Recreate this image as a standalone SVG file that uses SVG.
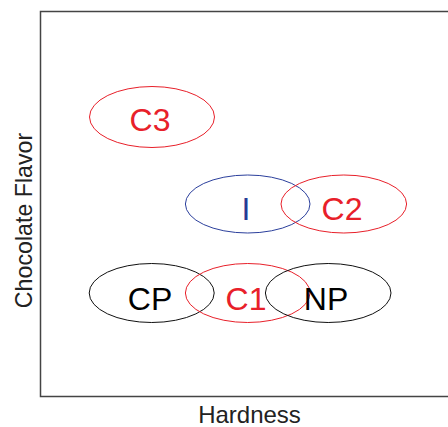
<svg xmlns="http://www.w3.org/2000/svg" width="448" height="427" viewBox="0 0 448 427">
<style>
  .lbl { font-family: "Liberation Sans", Arial, sans-serif; font-size: 32px; text-anchor: middle; }
  .axis { font-family: "Liberation Sans", Arial, sans-serif; font-size: 24px; fill: #222; text-anchor: middle; }
  .ylab { font-size: 23.2px; }
  .red { fill: none; stroke: #e8202a; stroke-width: 1; }
  .blue { fill: none; stroke: #2b3f9c; stroke-width: 1; }
  .black { fill: none; stroke: #111; stroke-width: 1; }
</style>
<rect width="448" height="427" fill="#fff"/>
<g id="axes">
  <path d="M452 11.5 H40.5 V396.5 H452" fill="none" stroke="#444" stroke-width="1.5"/>
  <text class="axis" x="249.5" y="423">Hardness</text>
  <text class="axis ylab" transform="translate(31.5 220.5) rotate(-90)" x="0" y="0">Chocolate Flavor</text>
</g>
<g id="connectors"></g>
<g id="C3"><ellipse class="red" cx="152" cy="117" rx="62.5" ry="30.5"/><text class="lbl" x="150" y="131" fill="#e8202a">C3</text></g>
<g id="I"><ellipse class="blue" cx="247.7" cy="204" rx="62.3" ry="29"/><text class="lbl" x="246" y="220" fill="#253b95">I</text></g>
<g id="C2"><ellipse class="red" cx="343.8" cy="204" rx="62.8" ry="29"/><text class="lbl" x="342" y="220" fill="#e8202a">C2</text></g>
<g id="CP"><ellipse class="black" cx="151.7" cy="293" rx="62.5" ry="29.5"/><text class="lbl" x="150" y="310" fill="#000">CP</text></g>
<g id="C1"><ellipse class="red" cx="247.7" cy="293" rx="62.3" ry="29.5"/><text class="lbl" x="246" y="310" fill="#e8202a">C1</text></g>
<g id="NP"><ellipse class="black" cx="328.2" cy="293" rx="62.8" ry="29.5"/><text class="lbl" x="326" y="310" fill="#000">NP</text></g>
</svg>
